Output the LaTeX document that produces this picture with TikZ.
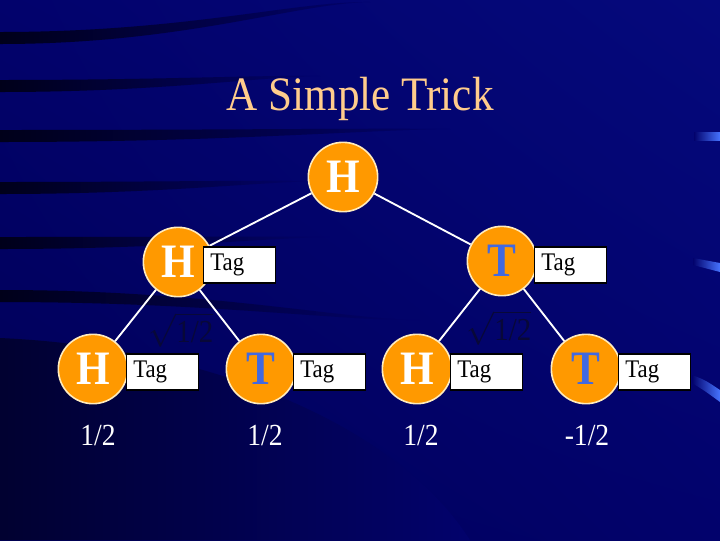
\documentclass[tikz,border=0pt]{standalone}
\usepackage{fontspec}
\setmainfont{Liberation Serif}[FakeStretch=0.9]
\usetikzlibrary{shadings}
\definecolor{bgblue}{RGB}{2,2,108}
\definecolor{bgdark}{RGB}{0,0,85}
\definecolor{bglight}{RGB}{5,9,124}
\definecolor{streak}{RGB}{0,0,26}
\definecolor{barblue}{RGB}{70,115,255}
\definecolor{coinorange}{RGB}{255,153,0}
\definecolor{coinrim}{RGB}{255,236,190}
\definecolor{tailblue}{RGB}{65,105,225}
\definecolor{titlepeach}{RGB}{255,204,140}
\definecolor{sqrtdark}{RGB}{8,8,56}
\tikzset{
  coin/.style={circle,fill=coinorange,draw=coinrim,line width=1.2pt,minimum size=52pt,inner sep=0pt,
    font=\bfseries\fontsize{36}{36}\selectfont},
  heads/.style={coin,text=white},
  tails/.style={coin,text=tailblue},
  tag/.style={anchor=west,draw=black,fill=white,line width=0.9pt,minimum height=27pt,inner xsep=5pt,
    inner ysep=0pt,text width=44pt,align=left,font=\fontsize{19}{19}\selectfont},
  edge/.style={white,line width=1.4pt},
  amp/.style={anchor=base,text=white,font=\fontsize{23}{23}\selectfont},
  sqrtlbl/.style={text=sqrtdark,font=\fontsize{24}{24}\selectfont},
  titlelbl/.style={anchor=base,text=titlepeach,font=\fontsize{36}{36}\selectfont}
}
\begin{document}
\begin{tikzpicture}[x=0.75pt,y=-0.75pt]
\useasboundingbox (0,0) rectangle (720,540);
% background
\shade[upper left=bgblue,upper right=bglight,lower left=bgdark,lower right=bgblue] (0,0) rectangle (720,540);
\foreach \ya/\xb/\yb in {38/370/2,86/320/76,136/450/129,188/320/181,243/330/237,296/420/320}
\shade[left color=streak,right color=bgblue] (0,\ya-6)..controls (0.5*\xb,\ya-6) and (0.8*\xb,\yb-1)..(\xb,\yb)
  ..controls (0.8*\xb,\yb+1) and (0.5*\xb,\ya+6)..(0,\ya+6)--cycle;
\shade[left color=black!55!bgblue,right color=bgblue] (0,338)..controls (220,348) and (400,430)..(470,540)--(0,540)--cycle;
\shade[left color=bgblue,right color=barblue] (694,132)--(720,132)--(720,140)--(694,140)--cycle;
\shade[left color=bgblue,right color=barblue] (693,258)--(720,263)--(720,272)--(693,265)--cycle;
\shade[left color=bgblue,right color=barblue] (692,375)..controls (705,380)..(720,390)--(720,402)..controls (705,391)..(692,383)--cycle;

\node[titlelbl] (title) at (360,110) {A Simple Trick};

% coins
\node[heads] (root) at (343,177) {H};
\node[heads] (h1) at (178,262) {H};
\node[tails] (t1) at (502,261) {T};
\node[heads] (hh) at (93,369) {H};
\node[tails] (ht) at (261,369) {T};
\node[heads] (th) at (417,369) {H};
\node[tails] (tt) at (586,369) {T};
\foreach \a/\b in {root/h1,root/t1,h1/hh,h1/ht,t1/th,t1/tt}
\draw[edge] (\a)--(\b);

% tags
\node[tag] (h1tag) at (203,265) {Tag};
\node[tag] (t1tag) at (534,265) {Tag};
\node[tag] (hhtag) at (126,372) {Tag};
\node[tag] (httag) at (293,372) {Tag};
\node[tag] (thtag) at (450,372) {Tag};
\node[tag] (tttag) at (618,372) {Tag};

\node[sqrtlbl] (hsq) at (181,330) {$\sqrt{\mbox{1/2}}$};
\node[sqrtlbl] (tsq) at (499,328) {$\sqrt{\mbox{1/2}}$};

\node[amp] (v1) at (98,445) {1/2};
\node[amp] (v2) at (265,445) {1/2};
\node[amp] (v3) at (421,445) {1/2};
\node[amp] (v4) at (587,445) {-1/2};
\end{tikzpicture}
\end{document}
